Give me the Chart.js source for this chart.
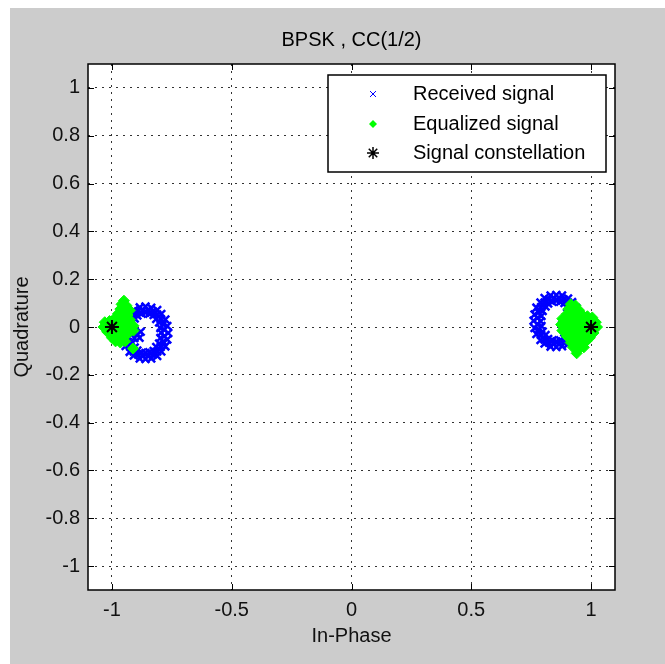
<!DOCTYPE html>
<html>
<head>
<meta charset="utf-8">
<script src="https://cdn.jsdelivr.net/npm/chart.js@4"></script>
<style>
  html, body { margin: 0; padding: 0; background: #fff; }
  #wrap { width: 665px; height: 664px; }
</style>
</head>
<body>
<div id="wrap"><canvas id="scatter" width="665" height="664"></canvas></div>
<script>
// values, [In-Phase, Quadrature]
const receivedLeft = [
  [-0.765, -0.025], [-0.769, 0.004], [-0.777, 0.031], [-0.794, 0.054], [-0.811, 0.071], [-0.836, 0.080],
  [-0.860, 0.086], [-0.884, 0.082], [-0.909, 0.069], [-0.926, 0.052], [-0.943, 0.031], [-0.951, 0.002],
  [-0.955, -0.026], [-0.951, -0.054], [-0.943, -0.079], [-0.926, -0.104], [-0.909, -0.119], [-0.884, -0.132],
  [-0.860, -0.134], [-0.836, -0.132], [-0.811, -0.121], [-0.794, -0.102], [-0.777, -0.081], [-0.769, -0.052],
  [-0.781, -0.012], [-0.786, 0.012], [-0.797, 0.034], [-0.811, 0.052], [-0.829, 0.065], [-0.850, 0.071],
  [-0.870, 0.071], [-0.891, 0.065], [-0.909, 0.052], [-0.923, 0.034], [-0.934, 0.012], [-0.939, -0.012],
  [-0.939, -0.038], [-0.934, -0.062], [-0.923, -0.084], [-0.909, -0.102], [-0.891, -0.115], [-0.870, -0.121],
  [-0.850, -0.121], [-0.829, -0.115], [-0.811, -0.102], [-0.797, -0.084], [-0.786, -0.062], [-0.781, -0.038],
  [-0.795, -0.024], [-0.798, -0.004], [-0.803, 0.019], [-0.815, 0.034], [-0.826, 0.050], [-0.844, 0.056],
  [-0.860, 0.061], [-0.876, 0.056], [-0.894, 0.048], [-0.905, 0.036], [-0.917, 0.017], [-0.922, -0.004],
  [-0.915, -0.026], [-0.906, -0.046], [-0.915, -0.067], [-0.905, -0.086], [-0.894, -0.098], [-0.876, -0.108],
  [-0.860, -0.109], [-0.844, -0.106], [-0.826, -0.100], [-0.815, -0.084], [-0.803, -0.069], [-0.798, -0.046],
  [-0.895, -0.030], [-0.885, -0.045], [-0.880, -0.020]
];
const receivedRight = [
  [0.950, 0.025], [0.946, 0.054], [0.938, 0.079], [0.921, 0.104], [0.904, 0.119], [0.879, 0.132],
  [0.855, 0.134], [0.831, 0.132], [0.806, 0.121], [0.789, 0.102], [0.772, 0.081], [0.764, 0.052],
  [0.760, 0.026], [0.764, -0.004], [0.772, -0.029], [0.789, -0.054], [0.806, -0.069], [0.831, -0.082],
  [0.855, -0.084], [0.879, -0.080], [0.904, -0.071], [0.921, -0.052], [0.938, -0.031], [0.946, -0.002],
  [0.934, 0.038], [0.929, 0.062], [0.918, 0.084], [0.904, 0.102], [0.886, 0.115], [0.865, 0.121],
  [0.845, 0.121], [0.824, 0.115], [0.806, 0.102], [0.792, 0.084], [0.781, 0.062], [0.776, 0.038],
  [0.776, 0.012], [0.781, -0.012], [0.792, -0.034], [0.806, -0.052], [0.824, -0.065], [0.845, -0.071],
  [0.865, -0.071], [0.886, -0.065], [0.904, -0.052], [0.918, -0.034], [0.929, -0.012], [0.934, 0.012],
  [0.920, 0.026], [0.917, 0.046], [0.912, 0.069], [0.900, 0.084], [0.889, 0.100], [0.871, 0.106],
  [0.855, 0.111], [0.839, 0.106], [0.821, 0.098], [0.810, 0.086], [0.798, 0.067], [0.793, 0.046],
  [0.790, 0.024], [0.793, 0.004], [0.798, -0.019], [0.810, -0.034], [0.821, -0.050], [0.839, -0.056],
  [0.855, -0.061], [0.871, -0.056], [0.889, -0.048], [0.901, -0.036], [0.910, -0.017], [0.918, 0.004],
  [0.880, 0.010], [0.885, -0.010]
];
const equalizedLeft = [
  [-0.950, 0.110], [-0.960, 0.095], [-0.940, 0.090], [-0.965, 0.075], [-0.945, 0.072], [-0.925, 0.070],
  [-0.975, 0.055], [-0.955, 0.055], [-0.935, 0.050], [-0.985, 0.040], [-0.965, 0.035], [-0.945, 0.035],
  [-0.925, 0.030], [-1.030, 0.020], [-1.010, 0.025], [-0.990, 0.020], [-0.970, 0.015], [-0.950, 0.015],
  [-0.925, 0.010], [-0.910, 0.005], [-1.035, 0.000], [-1.015, 0.000], [-0.995, -0.005], [-0.975, -0.005],
  [-0.955, -0.005], [-0.930, -0.010], [-0.910, -0.015], [-1.020, -0.020], [-1.000, -0.025], [-0.980, -0.025],
  [-0.955, -0.025], [-0.935, -0.030], [-1.000, -0.045], [-0.975, -0.045], [-0.955, -0.050], [-0.985, -0.060],
  [-0.965, -0.065], [-0.945, -0.060], [-0.912, -0.090]
];
const equalizedRight = [
  [0.915, 0.095], [0.935, 0.090], [0.905, 0.075], [0.925, 0.072], [0.950, 0.070], [0.960, 0.055],
  [0.900, 0.055], [0.920, 0.052], [0.940, 0.050], [0.985, 0.045], [1.005, 0.040], [0.880, 0.035],
  [0.900, 0.032], [0.920, 0.030], [0.945, 0.030], [0.965, 0.030], [0.990, 0.025], [1.020, 0.020],
  [0.875, 0.010], [0.895, 0.012], [0.915, 0.010], [0.935, 0.008], [0.955, 0.010], [0.975, 0.005],
  [1.000, 0.005], [1.025, 0.000], [0.880, -0.015], [0.900, -0.012], [0.920, -0.015], [0.940, -0.015],
  [0.960, -0.020], [0.985, -0.020], [1.010, -0.025], [0.900, -0.040], [0.920, -0.040], [0.945, -0.042],
  [0.970, -0.045], [0.995, -0.045], [0.915, -0.065], [0.935, -0.065], [0.960, -0.070], [0.980, -0.060],
  [0.925, -0.085], [0.950, -0.090], [0.970, -0.085], [0.940, -0.110]
];
const constellation = [[-1, 0], [1, 0]];

const xTicks = [-1, -0.5, 0, 0.5, 1];
const yTicks = [1, 0.8, 0.6, 0.4, 0.2, 0, -0.2, -0.4, -0.6, -0.8, -1];
const seriesNames = ['Received signal', 'Equalized signal', 'Signal constellation'];
const titleText = 'BPSK , CC(1/2)';

const FONT = 'Arial, "Liberation Sans", sans-serif';
const toXY = pts => pts.map(p => ({ x: p[0], y: p[1] }));

// matlab style frame: grey figure, boxed axes with inward ticks, legend box
const matlabFrame = {
  id: 'matlabFrame',
  beforeDraw(chart) {
    const { ctx, chartArea: a } = chart;
    ctx.save();
    ctx.fillStyle = '#fff';
    ctx.fillRect(0, 0, chart.width, chart.height);
    ctx.fillStyle = '#cccccc';
    ctx.fillRect(10, 8, chart.width - 10, chart.height - 8);
    ctx.fillStyle = '#fff';
    ctx.fillRect(a.left, a.top, a.right - a.left, a.bottom - a.top);
    ctx.restore();
  },
  afterDraw(chart) {
    const { ctx, chartArea: a, scales } = chart;
    ctx.save();
    ctx.strokeStyle = '#000';
    ctx.lineWidth = 1.5;
    ctx.strokeRect(a.left, a.top, a.right - a.left, a.bottom - a.top);

    ctx.lineWidth = 1;
    ctx.beginPath();
    xTicks.forEach(v => {
      const x = Math.round(scales.x.getPixelForValue(v)) + 0.5;
      ctx.moveTo(x, a.bottom); ctx.lineTo(x, a.bottom - 6);
      ctx.moveTo(x, a.top); ctx.lineTo(x, a.top + 6);
    });
    yTicks.forEach(v => {
      const y = Math.round(scales.y.getPixelForValue(v)) + 0.5;
      ctx.moveTo(a.left, y); ctx.lineTo(a.left + 6, y);
      ctx.moveTo(a.right, y); ctx.lineTo(a.right - 6, y);
    });
    ctx.stroke();

    // title
    ctx.fillStyle = '#000';
    ctx.font = '20px ' + FONT;
    ctx.textAlign = 'center';
    ctx.textBaseline = 'middle';
    ctx.fillText(titleText, (a.left + a.right) / 2, 40);

    // legend
    const lx = 328, ly = 75, lw = 278, lh = 97;
    ctx.fillStyle = '#fff';
    ctx.fillRect(lx, ly, lw, lh);
    ctx.lineWidth = 1.5;
    ctx.strokeStyle = '#000';
    ctx.strokeRect(lx, ly, lw, lh);

    const mx = 373;
    const rows = [94, 124, 153];
    // x marker
    ctx.strokeStyle = '#0000ff';
    ctx.lineWidth = 1;
    ctx.beginPath();
    ctx.moveTo(mx - 3, rows[0] - 3); ctx.lineTo(mx + 3, rows[0] + 3);
    ctx.moveTo(mx + 3, rows[0] - 3); ctx.lineTo(mx - 3, rows[0] + 3);
    ctx.stroke();
    // diamond marker
    ctx.fillStyle = '#00ff00';
    ctx.beginPath();
    ctx.moveTo(mx, rows[1] - 4); ctx.lineTo(mx + 4, rows[1]);
    ctx.lineTo(mx, rows[1] + 4); ctx.lineTo(mx - 4, rows[1]);
    ctx.closePath();
    ctx.fill();
    // star marker
    ctx.strokeStyle = '#000';
    ctx.lineWidth = 1.5;
    ctx.beginPath();
    for (let k = 0; k < 4; k++) {
      const ang = k * Math.PI / 4;
      ctx.moveTo(mx - 6 * Math.cos(ang), rows[2] - 6 * Math.sin(ang));
      ctx.lineTo(mx + 6 * Math.cos(ang), rows[2] + 6 * Math.sin(ang));
    }
    ctx.stroke();

    ctx.fillStyle = '#000';
    ctx.font = '20px ' + FONT;
    ctx.textAlign = 'left';
    seriesNames.forEach((name, i) => ctx.fillText(name, 413, rows[i]));
    ctx.restore();
  }
};

const ctx = document.getElementById('scatter').getContext('2d');
new Chart(ctx, {
  type: 'scatter',
  data: {
    datasets: [
      {
        label: seriesNames[0],
        data: toXY(receivedLeft.concat(receivedRight)),
        pointStyle: 'crossRot',
        pointRadius: 5.5,
        borderColor: '#0000ff',
        backgroundColor: '#0000ff',
        borderWidth: 2.5,
        order: 3
      },
      {
        label: seriesNames[1],
        data: toXY(equalizedLeft.concat(equalizedRight)),
        pointStyle: 'rectRot',
        pointRadius: 5.5,
        borderColor: '#00ff00',
        backgroundColor: '#00ff00',
        borderWidth: 1,
        order: 2
      },
      {
        label: seriesNames[2],
        data: toXY(constellation),
        pointStyle: 'star',
        pointRadius: 7,
        borderColor: '#000',
        backgroundColor: '#000',
        borderWidth: 2,
        order: 1
      }
    ]
  },
  options: {
    responsive: false,
    animation: false,
    layout: { padding: { left: 10, top: 64, right: 50, bottom: 0 } },
    plugins: {
      legend: { display: false },
      tooltip: { enabled: false }
    },
    scales: {
      x: {
        type: 'linear',
        min: -1.1,
        max: 1.1,
        afterBuildTicks: s => { s.ticks = xTicks.map(v => ({ value: v })); },
        afterFit: s => { s.height = 74; },
        ticks: {
          color: '#111',
          font: { family: FONT, size: 20 },
          padding: 8,
          maxRotation: 0,
          callback: v => String(v)
        },
        grid: { color: '#333', lineWidth: 1, drawTicks: false, tickLength: 0 },
        border: { display: false, dash: [2, 5] },
        title: {
          display: true,
          text: 'In-Phase',
          color: '#111',
          font: { family: FONT, size: 20 },
          padding: { top: 0, bottom: 16 }
        }
      },
      y: {
        type: 'linear',
        min: -1.1,
        max: 1.1,
        afterBuildTicks: s => { s.ticks = yTicks.map(v => ({ value: v })); },
        afterFit: s => { s.width = 78; },
        ticks: {
          color: '#111',
          font: { family: FONT, size: 20 },
          padding: 8,
          callback: v => String(v)
        },
        grid: { color: '#333', lineWidth: 1, drawTicks: false, tickLength: 0 },
        border: { display: false, dash: [2, 5] },
        title: {
          display: true,
          text: 'Quadrature',
          color: '#111',
          font: { family: FONT, size: 20 },
          padding: { top: 0, bottom: 0 }
        }
      }
    }
  },
  plugins: [matlabFrame]
});
</script>
</body>
</html>
